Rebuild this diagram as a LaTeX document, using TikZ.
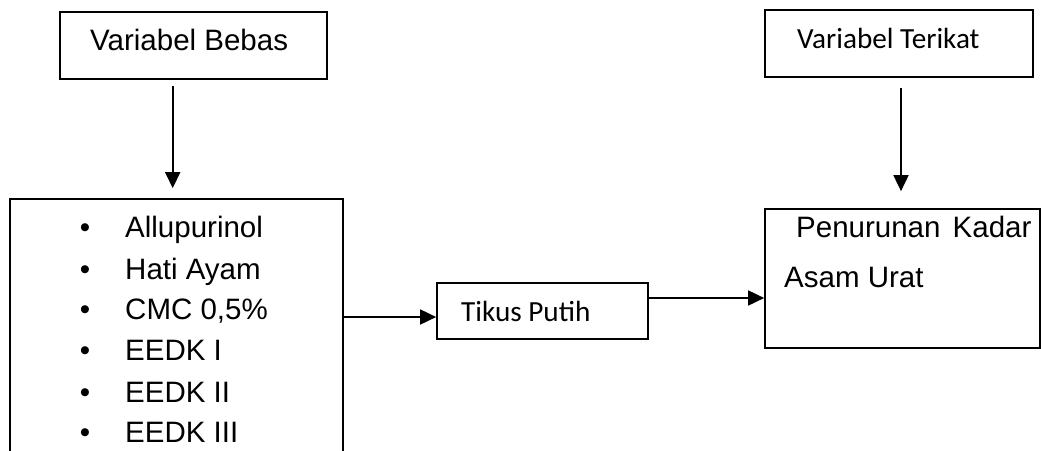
\documentclass[tikz,border=0pt]{standalone}
\usepackage{fontspec}
\setmainfont{Liberation Sans}
\newfontfamily\calfont{Carlito}
\usetikzlibrary{arrows.meta}
\begin{document}
\begin{tikzpicture}[x=1pt,y=-1pt,
  box/.style={draw,line width=1.7pt,rectangle,inner sep=0pt},
  txt/.style={inner sep=0pt,font=\fontsize{29.5}{34}\selectfont},
  ctxt/.style={inner sep=0pt,font=\calfont\fontsize{29.2}{34}\selectfont},
  arr/.style={line width=1.8pt,-{Triangle[length=16pt,width=15pt]}}]
\useasboundingbox (0,0) rectangle (1041,450);
\clip (0,0) rectangle (1041,450);
\fill[white] (0,0) rectangle (1041,450);
% boxes
\node[box,minimum width=267pt,minimum height=67pt] (bebas) at (193.5,45.5) {};
\node[box,minimum width=268pt,minimum height=67pt] (terikat) at (899,43.5) {};
\node[box,minimum width=333pt,minimum height=300pt] (left) at (176.5,349) {};
\node[box,minimum width=211pt,minimum height=56pt] (tikus) at (542.5,311) {};
\node[box,minimum width=275pt,minimum height=139pt] (right) at (902.5,278.5) {};
% texts
\node[txt,anchor=base west] (tbebas) at (90,50) {Variabel Bebas};
\node[ctxt,anchor=base west] (tterikat) at (797,48) {Variabel Terikat};
\node[ctxt,anchor=base west] (ttikus) at (461,321) {Tikus Putih};
\node[txt,anchor=base west] (tpen1) at (796,237) {Penurunan\hspace{4pt} Kadar};
\node[txt,anchor=base west] (tpen2) at (784,287) {Asam Urat};
% list
\foreach \t/\y [count=\i] in {Allupurinol/237,Hati Ayam/279,CMC 0{,}5\%/319,EEDK I/360,EEDK II/402,EEDK III/442}{
  \node[txt,anchor=base] (b\i) at (85,\y) {•};
  \node[txt,anchor=base west] (l\i) at (125,\y) {\t};
}
% connectors
\coordinate (c1) at (172.7,0);
\coordinate (c2) at (901,0);
\coordinate (c3) at (0,317);
\coordinate (c4) at (0,298);
\draw[arr,shorten <=6pt,shorten >=10pt] (c1 |- bebas.south) -- (c1 |- left.north);
\draw[arr,shorten <=10pt,shorten >=17pt] (c2 |- terikat.south) -- (c2 |- right.north);
\draw[arr] (left.east |- c3) -- (tikus.west |- c3);
\draw[arr] (tikus.east |- c4) -- (right.west |- c4);
\end{tikzpicture}
\end{document}
